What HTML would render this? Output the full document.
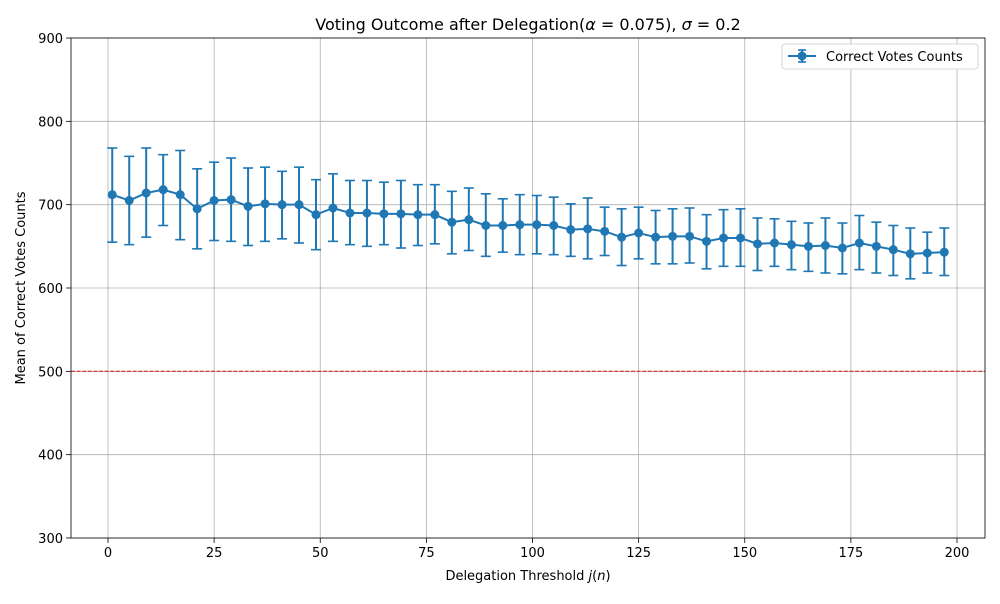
<!DOCTYPE html>
<html><head><meta charset="utf-8"><style>
body{margin:0;background:#fff;font-family:"DejaVu Sans","Liberation Sans",sans-serif}
svg text{font-family:"DejaVu Sans","Liberation Sans",sans-serif}
</style></head><body>
<svg id="chart" width="1000" height="600" xmlns="http://www.w3.org/2000/svg"></svg>
<script>
const xs=[1,5,9,13,17,21,25,29,33,37,41,45,49,53,57,61,65,69,73,77,81,85,89,93,97,101,105,109,113,117,121,125,129,133,137,141,145,149,153,157,161,165,169,173,177,181,185,189,193,197];
const means=[712,705,714,718,712,695,705,706,698,701,700,700,688,696,690,690,689,689,688,688,679,682,675,675,676,676,675,670,671,668,661,666,661,662,662,656,660,660,653,654,652,650,651,648,654,650,646,641,642,643];
const lows=[655,652,661,675,658,647,657,656,651,656,659,654,646,656,652,650,652,648,651,653,641,645,638,643,640,641,640,638,635,639,627,635,629,629,630,623,626,626,621,626,622,620,618,617,622,618,615,611,618,615];
const highs=[768,758,768,760,765,743,751,756,744,745,740,745,730,737,729,729,727,729,724,724,716,720,713,707,712,711,709,701,708,697,695,697,693,695,696,688,694,695,684,683,680,678,684,678,687,679,675,672,667,672];
const xTicks=[0,25,50,75,100,125,150,175,200];
const yTicks=[300,400,500,600,700,800,900];
const L=71,R=985,T=38,B=538;
const X=v=>108+(v-0)*(957-108)/200;
const Y=v=>B-(v-300)*(B-T)/600;
const svg=document.getElementById('chart');
const NS='http://www.w3.org/2000/svg';
function mk(tag,attrs,name,txt){const e=document.createElementNS(NS,tag);for(const k in attrs)e.setAttribute(k,attrs[k]);


if(txt!==undefined)e.textContent=txt;svg.appendChild(e);return e;}
mk('rect',{x:L,y:T,width:R-L,height:B-T,fill:'#fff'},'plot-area');
xTicks.forEach(t=>{const x=X(t);mk('line',{x1:x,x2:x,y1:T,y2:B,stroke:'#b0b0b0','stroke-width':0.8},'x-gridline');
mk('line',{x1:x,x2:x,y1:B,y2:B+5,stroke:'#000','stroke-width':0.8},'x-tick');
mk('text',{x:x,y:B+19,'font-size':13,'text-anchor':'middle'},'x-tick-label',t);});
yTicks.forEach(t=>{const y=Y(t);mk('line',{x1:L,x2:R,y1:y,y2:y,stroke:'#b0b0b0','stroke-width':0.8},'y-gridline');
mk('line',{x1:L-5,x2:L,y1:y,y2:y,stroke:'#000','stroke-width':0.8},'y-tick');
mk('text',{x:L-8,y:y+5,'font-size':13,'text-anchor':'end'},'y-tick-label',t);});
mk('line',{x1:L,x2:R,y1:Y(500),y2:Y(500),stroke:'#d62728','stroke-width':1.1,'stroke-dasharray':'4,1.6'},'baseline-500');
xs.forEach((v,i)=>{const x=X(v);
mk('line',{x1:x,x2:x,y1:Y(lows[i]),y2:Y(highs[i]),stroke:'#1f77b4','stroke-width':2},'error-bar');
mk('line',{x1:x-5,x2:x+5,y1:Y(lows[i]),y2:Y(lows[i]),stroke:'#1f77b4','stroke-width':1.6},'error-cap-low');
mk('line',{x1:x-5,x2:x+5,y1:Y(highs[i]),y2:Y(highs[i]),stroke:'#1f77b4','stroke-width':1.6},'error-cap-high');});
mk('polyline',{points:xs.map((v,i)=>X(v)+','+Y(means[i])).join(' '),fill:'none',stroke:'#1f77b4','stroke-width':2},'mean-line');
xs.forEach((v,i)=>mk('circle',{cx:X(v),cy:Y(means[i]),r:4.5,fill:'#1f77b4'},'mean-point'));
mk('rect',{x:L,y:T,width:R-L,height:B-T,fill:'none',stroke:'#000','stroke-width':0.8},'plot-frame');
const title=mk('text',{x:528,y:30,'font-size':16,'text-anchor':'middle'},'chart-title');
title.innerHTML='Voting Outcome after Delegation(<tspan font-style="italic">\u03B1</tspan> = 0.075), <tspan font-style="italic">\u03C3</tspan> = 0.2';
const xt=mk('text',{x:528,y:580,'font-size':13,'text-anchor':'middle'},'x-axis-title');
xt.innerHTML='Delegation Threshold <tspan font-style="italic">j</tspan>(<tspan font-style="italic">n</tspan>)';
mk('text',{x:25,y:288,'font-size':13,'text-anchor':'middle',transform:'rotate(-90 25 288)'},'y-axis-title','Mean of Correct Votes Counts');
mk('rect',{x:782,y:44,width:196,height:25,rx:3,fill:'#fff',stroke:'#ccc','stroke-width':0.8},'legend');
mk('line',{x1:788,x2:816,y1:56,y2:56,stroke:'#1f77b4','stroke-width':2},'legend-line');
mk('line',{x1:802,x2:802,y1:50,y2:62,stroke:'#1f77b4','stroke-width':2},'legend-errorbar');
mk('line',{x1:798,x2:806,y1:50,y2:50,stroke:'#1f77b4','stroke-width':1.6},'legend-cap-high');
mk('line',{x1:798,x2:806,y1:62,y2:62,stroke:'#1f77b4','stroke-width':1.6},'legend-cap-low');
mk('circle',{cx:802,cy:56,r:4.5,fill:'#1f77b4'},'legend-marker');
mk('text',{x:826,y:61,'font-size':13},'legend-label','Correct Votes Counts');
</script>
</body></html>
